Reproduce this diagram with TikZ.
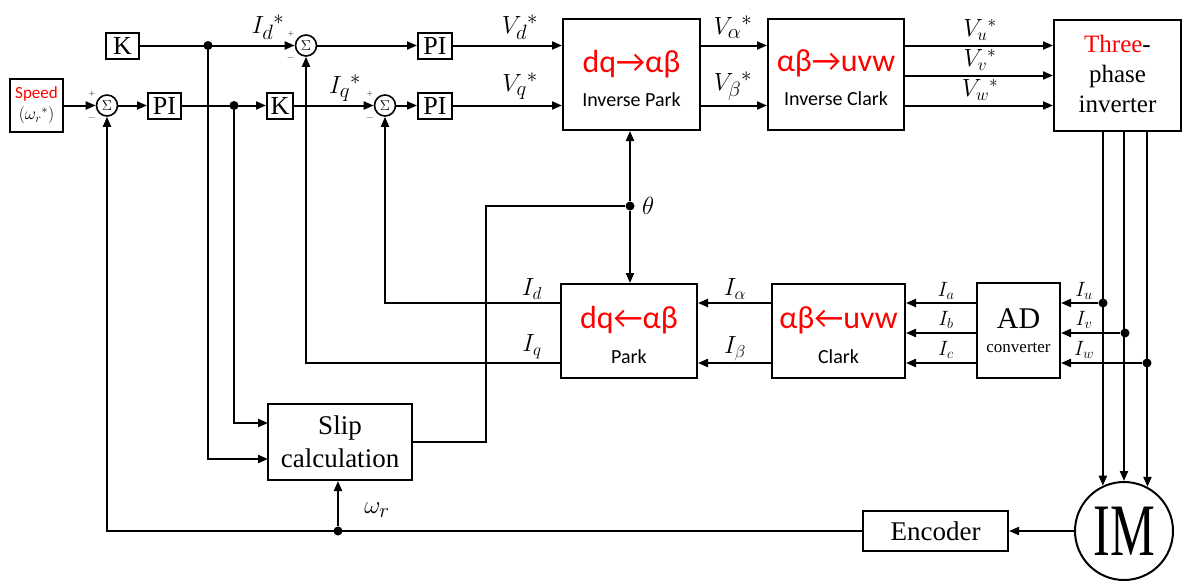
\documentclass[tikz,border=0pt]{standalone}
\usepackage{fontspec}
\usepackage{graphicx}
\setmainfont{Liberation Serif}
\newfontfamily\calfont{Carlito}
\usetikzlibrary{arrows.meta}
\begin{document}
\begin{tikzpicture}[x=1pt,y=-1pt,
  wire/.style={line width=2pt},
  arr/.style={wire,-{Triangle[length=10pt,width=8pt]}},
  box/.style={draw,line width=2pt,inner sep=0pt,align=center},
  sumc/.style={draw,circle,line width=1.6pt,minimum size=21pt,inner sep=0pt,font=\fontsize{15}{15}\selectfont},
  dot/.style={circle,fill,inner sep=0pt,minimum size=9pt},
  sgn/.style={inner sep=0pt,text=black!70,font=\fontsize{11}{11}\selectfont},
  lbl/.style={inner sep=0pt,font=\fontsize{28}{28}\selectfont},
]
\useasboundingbox (0,0) rectangle (1184,581);
% boxes
\node[box,minimum width=53pt,minimum height=53pt,font=\fontsize{17}{21}\selectfont] (speed) at (36.5,105.5)
  {{\calfont\color{red}Speed}\\{\fontsize{18}{21}\selectfont$(\omega_r{}^{*})$}};
\node[box,minimum width=33pt,minimum height=26pt,font=\fontsize{26}{26}\selectfont] (k1) at (122.5,45.5) {K};
\node[box,minimum width=33pt,minimum height=26pt,font=\fontsize{26}{26}\selectfont] (pi1) at (164.5,105.5) {PI};
\node[box,minimum width=26pt,minimum height=26pt,font=\fontsize{26}{26}\selectfont] (k2) at (280,105.5) {K};
\node[box,minimum width=34pt,minimum height=26pt,font=\fontsize{26}{26}\selectfont] (pi2) at (435,45.5) {PI};
\node[box,minimum width=34pt,minimum height=26pt,font=\fontsize{26}{26}\selectfont] (pi3) at (435,105.5) {PI};
\node[sumc] (s1) at (107,105.5) {$\Sigma$};
\node[sumc] (s2) at (306,45.5) {$\Sigma$};
\node[sumc] (s3) at (385,105.5) {$\Sigma$};
\foreach \s in {s1,s2,s3}{
  \node[sgn] at ([xshift=-15pt,yshift=11pt]\s.center) {+};
  \node[sgn] at ([xshift=-15pt,yshift=-12pt]\s.center) {$-$};
}
\node[box,minimum width=137pt,minimum height=111pt,font=\calfont\fontsize{20}{34}\selectfont] (ipark) at (631.5,74.5)
  {\rule{0pt}{30pt}{\fontsize{32}{34}\selectfont\color{red}dq→αβ}\\Inverse Park};
\node[box,minimum width=136pt,minimum height=111pt,font=\calfont\fontsize{20}{34}\selectfont] (iclark) at (836,74.5)
  {\rule{0pt}{28pt}{\fontsize{32}{34}\selectfont\color{red}αβ→uvw}\\Inverse Clark};
\node[box,minimum width=127pt,minimum height=111pt,font=\fontsize{25}{30}\selectfont] (inv) at (1117.5,75.5)
  {{\color{red}Three}-\\phase\\inverter\rule[-4pt]{0pt}{4pt}};
\node[box,minimum width=136pt,minimum height=94pt,font=\calfont\fontsize{20}{35}\selectfont] (park) at (629,331)
  {\rule{0pt}{30pt}{\fontsize{32}{35}\selectfont\color{red}dq←αβ}\\Park};
\node[box,minimum width=133pt,minimum height=94pt,font=\calfont\fontsize{20}{35}\selectfont] (clark) at (838.5,331)
  {\rule{0pt}{30pt}{\fontsize{32}{35}\selectfont\color{red}αβ←uvw}\\Clark};
\node[box,minimum width=83pt,minimum height=95pt,font=\fontsize{17}{24}\selectfont] (ad) at (1018.5,330.5)
  {{\fontsize{30}{24}\selectfont AD}\\converter};
\node[box,minimum width=144pt,minimum height=76pt,font=\fontsize{27}{33}\selectfont] (slip) at (340,442)
  {Slip\\calculation};
\node[box,minimum width=145pt,minimum height=40pt,font=\fontsize{27}{27}\selectfont] (enc) at (935.5,531) {Encoder};
\node[draw,circle,line width=2pt,minimum size=98pt,inner sep=0pt,font=\fontsize{74}{74}\selectfont] (im) at (1124,531) {\scalebox{0.68}[1]{IM}};
% dots and coordinates
\node[dot] (d1) at (208,45.5) {};
\node[dot] (d2) at (234,105.5) {};
\node[dot] (th) at (630,206) {};
\coordinate (tc) at (486,206);
\coordinate (su) at (268,423);
\coordinate (sl) at (268,459);
\node[dot] (cu) at (1103,303) {};
\node[dot] (cv) at (1125,333) {};
\node[dot] (cw) at (1147,363) {};
\node[dot] (dw) at (338,531) {};
% top row connectors
\draw[arr] (speed) -- (s1);
\draw[arr] (s1) -- (pi1);
\draw[arr] (pi1) -- (k2);
\draw[arr] (k1) -- (s2);
\draw[arr] (k2) -- (s3);
\draw[arr] (s2) -- (pi2);
\draw[arr] (s3) -- (pi3);
\draw[arr] (pi2.east) -- (pi2.east -| ipark.west);
\draw[arr] (pi3.east) -- (pi3.east -| ipark.west);
\draw[arr] (pi2.east -| ipark.east) -- (pi2.east -| iclark.west);
\draw[arr] (pi3.east -| ipark.east) -- (pi3.east -| iclark.west);
\draw[arr] (pi2.east -| iclark.east) -- (pi2.east -| inv.west);
\draw[arr] (iclark.east |- inv.west) -- (inv.west);
\draw[arr] (pi3.east -| iclark.east) -- (pi3.east -| inv.west);
% inverter to motor
\draw[arr] (im.115 |- inv.south) -- (im.115);
\draw[arr] (im.north |- inv.south) -- (im.north);
\draw[arr] (im.62 |- inv.south) -- (im.62);
% current sensing
\draw[arr] (cu) -- (cu -| ad.east);
\draw[arr] (cv) -- (cv -| ad.east);
\draw[arr] (cw) -- (cw -| ad.east);
\draw[arr] (cu -| ad.west) -- (cu -| clark.east);
\draw[arr] (cv -| ad.west) -- (cv -| clark.east);
\draw[arr] (cw -| ad.west) -- (cw -| clark.east);
\draw[arr] (cu -| clark.west) -- (cu -| park.east);
\draw[arr] (cw -| clark.west) -- (cw -| park.east);
\draw[arr] (cu -| park.west) -| (s3);
\draw[arr] (cw -| park.west) -| (s2);
% theta
\draw[arr] (th) -- (th |- park.north);
\draw[arr] (th) -- (th |- ipark.south);
\draw[wire] (slip.east) -| (tc) -- (th);
% slip inputs
\draw[arr] (d1) |- (sl);
\draw[arr] (d2) |- (su);
% speed feedback
\draw[arr] (im) -- (enc);
\draw[arr] (enc) -| (s1);
\draw[arr] (dw) -- (dw |- slip.south);
% labels
\node[lbl] at (268,27) {$I_d{}^{*}$};
\node[lbl] at (345,88) {$I_q{}^{*}$};
\node[lbl] at (520,27) {$V_d{}^{*}$};
\node[lbl] at (520,86) {$V_q{}^{*}$};
\node[lbl] at (733,27) {$V_\alpha{}^{*}$};
\node[lbl] at (733,86) {$V_\beta{}^{*}$};
\node[lbl,font=\fontsize{25}{25}\selectfont] at (980,30) {$V_u{}^{*}$};
\node[lbl,font=\fontsize{25}{25}\selectfont] at (980,60) {$V_v{}^{*}$};
\node[lbl,font=\fontsize{25}{25}\selectfont] at (980,90) {$V_w{}^{*}$};
\node[lbl,anchor=west,font=\fontsize{32}{32}\selectfont] at (642,206) {$\theta$};
\node[lbl,font=\fontsize{27}{27}\selectfont] at (532,289) {$I_d$};
\node[lbl,font=\fontsize{27}{27}\selectfont] at (532,347) {$I_q$};
\node[lbl,font=\fontsize{27}{27}\selectfont] at (735,289) {$I_\alpha$};
\node[lbl,font=\fontsize{27}{27}\selectfont] at (735,349) {$I_\beta$};
\node[lbl,font=\fontsize{22}{22}\selectfont] at (946,291) {$I_a$};
\node[lbl,font=\fontsize{22}{22}\selectfont] at (946,320) {$I_b$};
\node[lbl,font=\fontsize{22}{22}\selectfont] at (946,350) {$I_c$};
\node[lbl,font=\fontsize{22}{22}\selectfont] at (1084,291) {$I_u$};
\node[lbl,font=\fontsize{22}{22}\selectfont] at (1084,320) {$I_v$};
\node[lbl,font=\fontsize{22}{22}\selectfont] at (1084,350) {$I_w$};
\node[lbl,font=\fontsize{32}{32}\selectfont] at (377,510) {$\omega_r$};
\end{tikzpicture}
\end{document}
